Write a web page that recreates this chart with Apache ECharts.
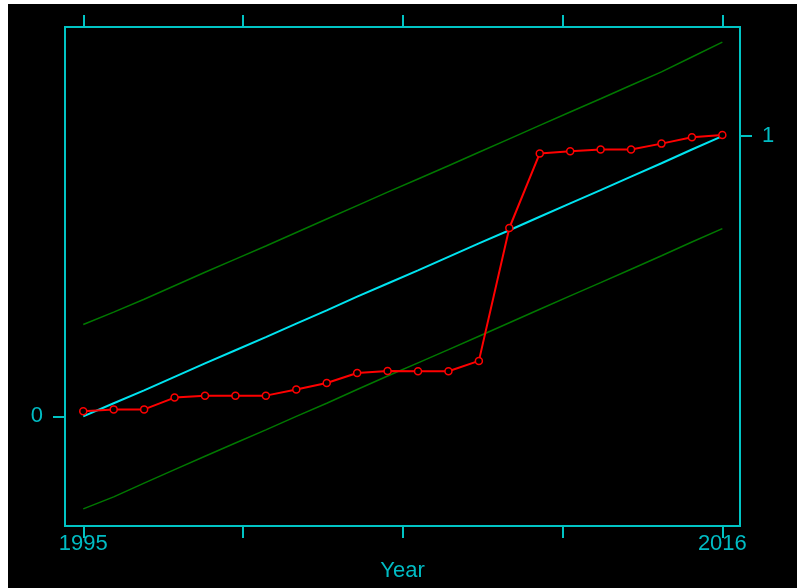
<!DOCTYPE html>
<html>
<head>
<meta charset="utf-8">
<script src="https://cdn.jsdelivr.net/npm/echarts@6/dist/echarts.min.js"></script>
<style>
    body { margin: 0; background: #ffffff; }
    #chart { position: absolute; left: 8px; top: 4px; width: 789px; height: 584px; background: #000000; }
</style>
</head>
<body>
<div id="chart"></div>
<script>
var years = [1995, 1996, 1997, 1998, 1999, 2000, 2001, 2002, 2003, 2004, 2005,
    2006, 2007, 2008, 2009, 2010, 2011, 2012, 2013, 2014, 2015, 2016]
var observed = [0.018, 0.025, 0.025, 0.067, 0.074, 0.074, 0.074, 0.096, 0.119, 0.155, 0.162,
    0.161, 0.161, 0.198, 0.672, 0.938, 0.946, 0.952, 0.952, 0.973, 0.996, 1.004]
var trend = [0, 0.047, 0.093, 0.141, 0.189, 0.236, 0.283, 0.331, 0.378, 0.427, 0.474,
    0.521, 0.569, 0.617, 0.664, 0.712, 0.760, 0.807, 0.855, 0.903, 0.952, 1.0]
var upper = [0.328, 0.372, 0.418, 0.466, 0.514, 0.561, 0.608, 0.656, 0.704, 0.752, 0.800,
    0.847, 0.894, 0.942, 0.990, 1.038, 1.086, 1.133, 1.181, 1.229, 1.282, 1.335]
var lower = [-0.330, -0.287, -0.238, -0.190, -0.142, -0.095, -0.048, 0.000, 0.047, 0.096, 0.144,
    0.191, 0.238, 0.286, 0.334, 0.382, 0.430, 0.477, 0.525, 0.573, 0.622, 0.670]
var xTicks = [1995, 2000.25, 2005.5, 2010.75, 2016]
var xLabels = [1995, 2016]

var frameColor = '#00c4c4'
var textColor = '#00bcc4'

function pairs(vals) {
    return years.map(function (y, i) { return [y, vals[i]] })
}

function xAxisOf(pos, labels) {
    return {
        type: 'value',
        position: pos,
        min: 1994.4,
        max: 2016.58,
        axisLine: { show: false, onZero: false },
        splitLine: { show: false },
        axisTick: {
            show: true,
            customValues: xTicks,
            length: 12,
            lineStyle: { color: frameColor, width: 2 }
        },
        axisLabel: {
            show: labels,
            customValues: xLabels,
            formatter: function (v) { return String(v) },
            color: textColor,
            fontFamily: 'Liberation Sans',
            fontSize: 22,
            margin: 7
        },
        name: labels ? 'Year' : '',
        nameLocation: 'middle',
        nameGap: 32,
        nameTextStyle: { color: textColor, fontFamily: 'Liberation Sans', fontSize: 22 }
    }
}

function yAxisOf(pos, val) {
    return {
        type: 'value',
        position: pos,
        min: -0.391,
        max: 1.389,
        axisLine: { show: false, onZero: false },
        splitLine: { show: false },
        axisTick: {
            show: true,
            customValues: [val],
            length: 12,
            lineStyle: { color: frameColor, width: 2 }
        },
        axisLabel: {
            customValues: [val],
            color: textColor,
            fontFamily: 'Liberation Sans',
            fontSize: 22,
            margin: 22
        }
    }
}

var chart = echarts.init(document.getElementById('chart'))
chart.setOption({
    animation: false,
    backgroundColor: '#000000',
    grid: {
        show: true,
        left: 57,
        right: 57,
        top: 23,
        bottom: 62,
        outerBoundsMode: 'none',
        containLabel: false,
        borderColor: frameColor,
        borderWidth: 2
    },
    xAxis: [xAxisOf('bottom', true), xAxisOf('top', false)],
    yAxis: [yAxisOf('left', 0), yAxisOf('right', 1)],
    series: [
        {
            type: 'line',
            data: pairs(upper),
            showSymbol: false,
            lineStyle: { color: '#007800', width: 1.5 }
        },
        {
            type: 'line',
            data: pairs(lower),
            showSymbol: false,
            lineStyle: { color: '#007800', width: 1.5 }
        },
        {
            type: 'line',
            data: pairs(trend),
            showSymbol: false,
            lineStyle: { color: '#00e4f0', width: 2 }
        },
        {
            type: 'line',
            data: pairs(observed),
            symbol: 'circle',
            symbolSize: 7,
            itemStyle: { color: '#000000', borderColor: '#ff0000', borderWidth: 1.5 },
            lineStyle: { color: '#ff0000', width: 2 }
        }
    ]
})
</script>
</body>
</html>
